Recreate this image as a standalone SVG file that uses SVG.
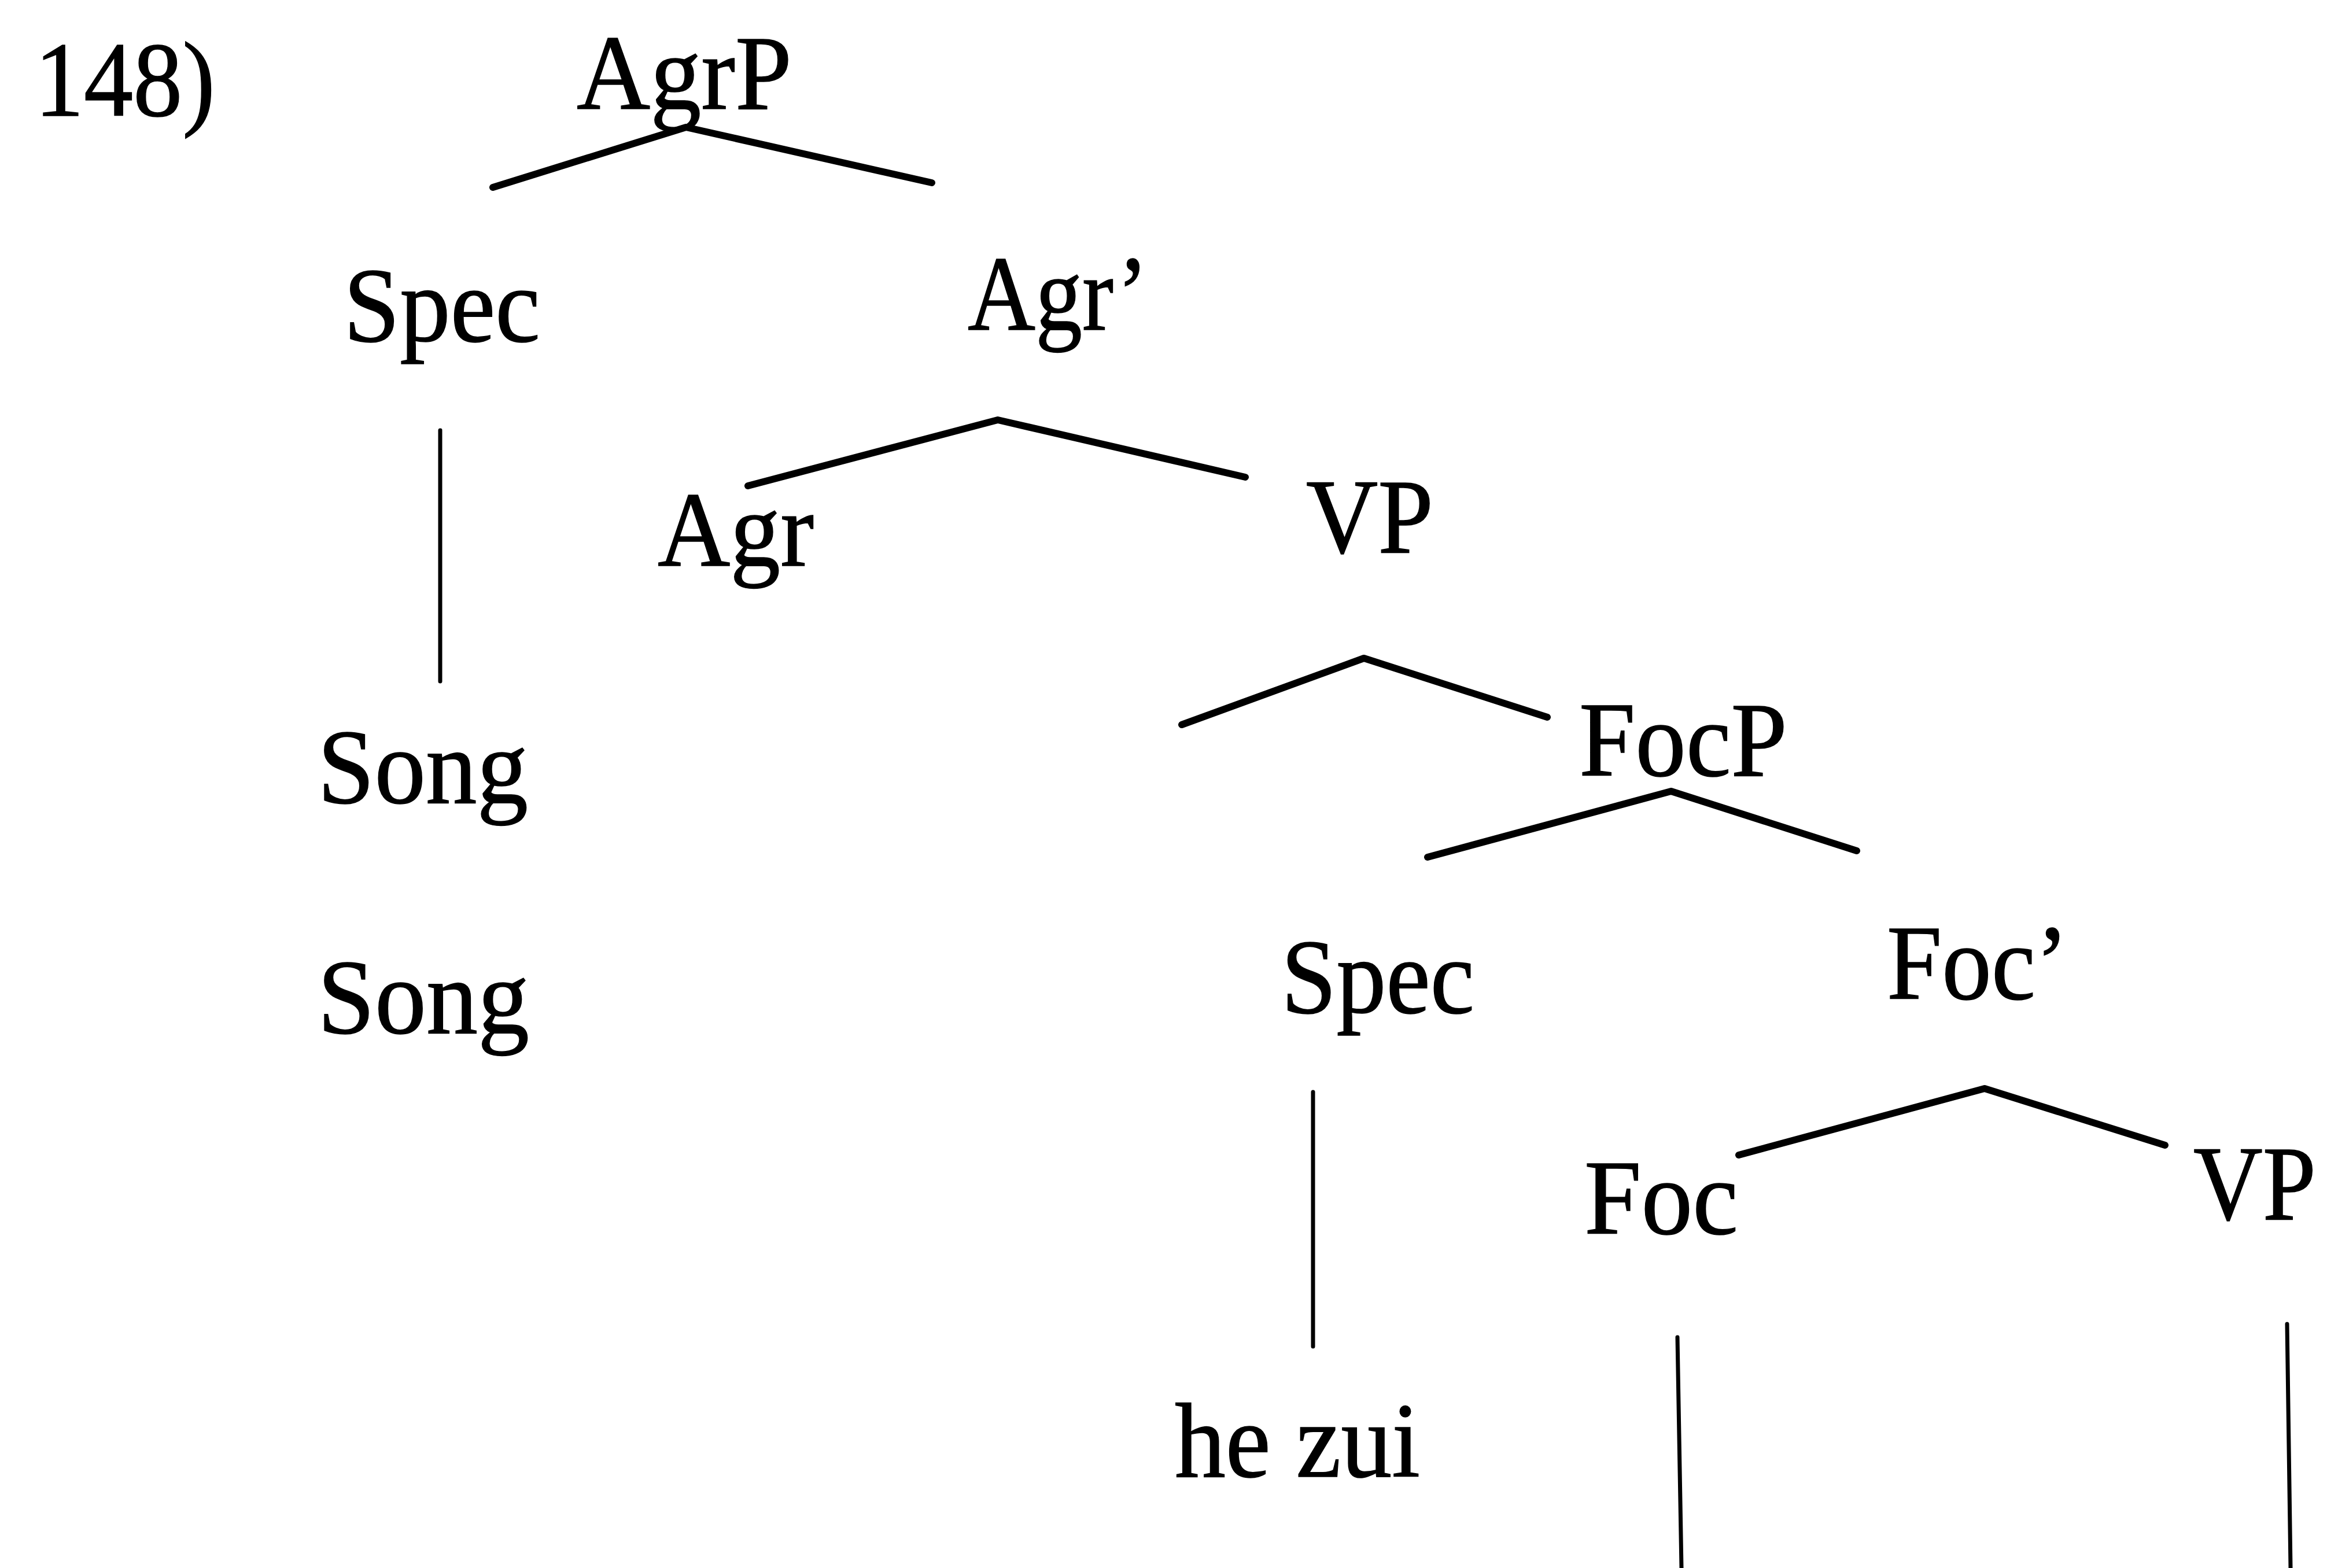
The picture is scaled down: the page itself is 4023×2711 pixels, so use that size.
<svg xmlns="http://www.w3.org/2000/svg" width="4023" height="2711" viewBox="0 0 4023 2711">
<style>
text{font-family:"Liberation Serif","Times New Roman",serif;font-size:185px;fill:#000;stroke:#000;stroke-width:1.5}
.br{fill:none;stroke:#000;stroke-width:12;stroke-linecap:round;stroke-linejoin:round}
.vt{fill:none;stroke:#000;stroke-width:7;stroke-linecap:round}
</style>
<rect width="4023" height="2711" fill="#fff"/>
<g id="label"><text x="60" y="200" textLength="312" lengthAdjust="spacingAndGlyphs">148)</text></g>
<g id="connectors">
<polyline class="br" points="852,324 1186,220 1611,316"/>
<polyline class="br" points="1293,840 1725,726 2153,825"/>
<polyline class="br" points="2043,1253 2358,1138 2675,1240"/>
<polyline class="br" points="2468,1482 2889,1368 3210,1471"/>
<polyline class="br" points="3006,1997 3431,1882 3743,1980"/>
<line class="vt" x1="761" y1="744" x2="761" y2="1178"/>
<line class="vt" x1="2270" y1="1888" x2="2270" y2="2328"/>
<line class="vt" x1="2900" y1="2312" x2="2907" y2="2711"/>
<line class="vt" x1="3954" y1="2289" x2="3960" y2="2711"/>
</g>
<g id="n-agrp"><text x="997" y="188" textLength="372" lengthAdjust="spacingAndGlyphs">AgrP</text></g>
<g id="n-spec1"><text x="594" y="590" textLength="340" lengthAdjust="spacingAndGlyphs">Spec</text></g>
<g id="n-agrbar"><text x="1673" y="570" textLength="312" lengthAdjust="spacingAndGlyphs">Agr’</text></g>
<g id="n-agr"><text x="1137" y="978" textLength="270" lengthAdjust="spacingAndGlyphs">Agr</text></g>
<g id="n-vp1"><text x="2258" y="955" textLength="220" lengthAdjust="spacingAndGlyphs">VP</text></g>
<g id="n-song1"><text x="549" y="1388" textLength="364" lengthAdjust="spacingAndGlyphs">Song</text></g>
<g id="n-song2"><text x="549" y="1786" textLength="366" lengthAdjust="spacingAndGlyphs">Song</text></g>
<g id="n-focp"><text x="2730" y="1341" textLength="360" lengthAdjust="spacingAndGlyphs">FocP</text></g>
<g id="n-spec2"><text x="2215" y="1751" textLength="334" lengthAdjust="spacingAndGlyphs">Spec</text></g>
<g id="n-focbar"><text x="3262" y="1727" textLength="314" lengthAdjust="spacingAndGlyphs">Foc’</text></g>
<g id="n-foc"><text x="2739" y="2133" textLength="266" lengthAdjust="spacingAndGlyphs">Foc</text></g>
<g id="n-vp2"><text x="3792" y="2108" textLength="212" lengthAdjust="spacingAndGlyphs">VP</text></g>
<g id="n-hezui"><text x="2031" y="2553" textLength="424" lengthAdjust="spacingAndGlyphs">he zui</text></g>
</svg>
